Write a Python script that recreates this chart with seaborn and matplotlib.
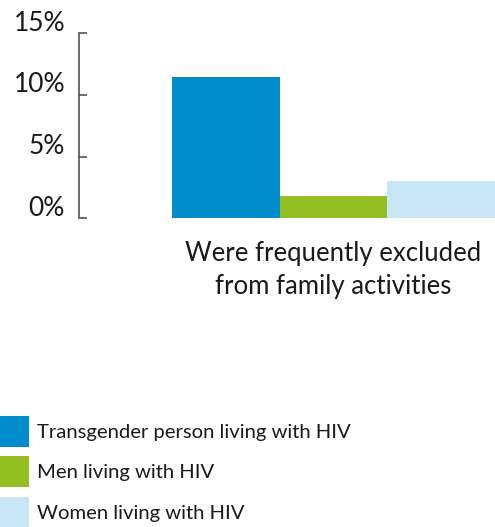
import matplotlib
matplotlib.use("Agg")
import matplotlib.pyplot as plt
import matplotlib.transforms as mtransforms
import seaborn as sns

groups = [
    "Transgender person living with HIV",
    "Men living with HIV",
    "Women living with HIV",
]
values = [11.5, 1.8, 3.0]
colors = ["#008BCB", "#93BF22", "#C9E6F7"]
category_label = "Were frequently excluded\nfrom family activities"
y_ticks = [0, 5, 10, 15]
y_tick_labels = ["0%", "5%", "10%", "15%"]

sns.set_style("white")
plt.rcParams["font.family"] = ["Lato", "DejaVu Sans"]

W, H = 495, 527
fig = plt.figure(figsize=(W / 100, H / 100), dpi=100)
ax = fig.add_axes([79 / W, (H - 218.5) / H, (W - 79) / W, 185 / H])

sns.barplot(
    x=groups, y=values, hue=groups, palette=colors, width=1,
    saturation=1, ax=ax, legend=False, linewidth=0,
)

ax.set_xlim(-1.364, 2.5)
ax.set_ylim(0, 15)
ax.set_yticks(y_ticks)
ax.set_yticklabels(y_tick_labels)
ax.set_xticks([])
ax.tick_params(axis="y", direction="in", length=6, width=1.2, color="#555555",
               pad=10, labelsize=19, labelcolor="#1a1a1a", left=True)
offset = mtransforms.ScaledTranslation(0, 2 / 72, fig.dpi_scale_trans)
for lab in ax.get_yticklabels():
    lab.set_va("baseline")
    lab.set_transform(lab.get_transform() + offset)

for s in ["top", "right", "bottom"]:
    ax.spines[s].set_visible(False)
ax.spines["left"].set_color("#555555")
ax.spines["left"].set_linewidth(1.2)
ax.set_xlabel("")
ax.set_ylabel("")

ax.annotate(category_label, xy=(1, 0), xycoords=("data", "axes fraction"),
            xytext=(0, -16), textcoords="offset points", ha="center", va="top",
            fontsize=18.5, color="#1a1a1a", linespacing=1.42)

handles = [plt.Rectangle((0, 0), 1, 1, color=c, linewidth=0) for c in colors]
fig.legend(handles, groups, loc="upper left", bbox_to_anchor=(0, (H - 416) / H),
           frameon=False, borderaxespad=0, borderpad=0, fontsize=14.6,
           handlelength=1.43, handleheight=1.97, handletextpad=0.4,
           labelspacing=0.47, labelcolor="#1a1a1a")

fig.savefig("out.png", dpi=100)
